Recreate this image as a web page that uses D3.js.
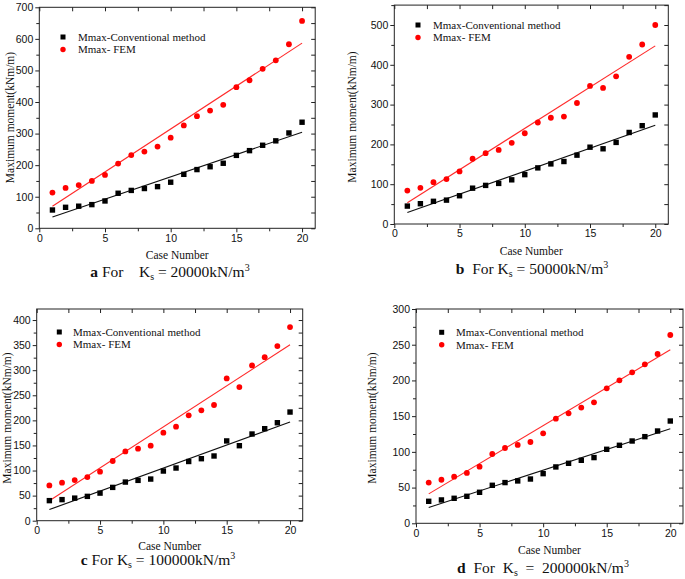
<!DOCTYPE html>
<html><head><meta charset="utf-8">
<script src="https://cdn.jsdelivr.net/npm/d3@7/dist/d3.min.js"></script>
<style>body{margin:0;background:#fff}svg{display:block}</style>
</head><body>
<svg id="c" width="685" height="579"></svg>
<script>
const cases = [1,2,3,4,5,6,7,8,9,10,11,12,13,14,15,16,17,18,19,20];
const xTicks = [0,5,10,15,20];
const seriesNames = ["Mmax-Conventional method", "Mmax- FEM"];
const xTitle = "Case Number";
const yTitle = "Maximum moment(kNm/m)";

const convA = [58,66.5,70,75,86.6,111,120,126,132,146,171,186,195,206,231,246,263,277,302,336];
const femA  = [113,128,137,150,169,205,232,243,259,287,326,355,373,391,447,469,505,532,583,657];
const convB = [45,51,57,60,71,90,97,102,111,124,141,151,157,173,193,189,205,230,247,274];
const femB  = [84,91,105,113,132,164,178,186,204,228,255,267,270,304,347,342,371,420,451,500];
const convC = [40,42,45,48.5,55,66.4,77,80.4,83,99,105,118,123.6,129,159,149.5,172.8,183.4,195.3,216.6];
const femC  = [70.4,75.7,81,87,97.7,119,138,143.5,149.5,175.4,187.4,210,220,230.6,283.7,266.4,309.6,326,348,386];
const convD = [30.8,32.7,35,37.8,43.4,53.2,57,59.3,62,69.5,78.9,84,88.2,92,103.6,109.2,115.2,121.3,129.2,143.2];
const femD  = [57,61,65.3,70.5,79.3,97,105.4,109.7,113.8,126,146.5,154,162,169.4,189,200.2,211.4,222.6,237,263.6];

const yTicksA = [0,100,200,300,400,500,600,700];
const yTicksB = [0,100,200,300,400,500];
const yTicksC = [0,50,100,150,200,250,300,350,400];
const yTicksD = [0,50,100,150,200,250,300];
const yMax = [700,550,422,300];
const captions = [
  {letter:"a", pre:" For    K", val:" = 20000kN/m"},
  {letter:"b", pre:"  For K", val:" = 50000kN/m"},
  {letter:"c", pre:" For K", val:" = 100000kN/m"},
  {letter:"d", pre:"  For  K", val:"  =  200000kN/m"}
];

const panels = [
  {conv:convA, fem:femA, yt:yTicksA, ymax:yMax[0], minorStep:50, cap:captions[0],
   x0:39.3, x1:315.2, y0:228.3, y1:7.3, ylx:10, yly:117.5, xly:259, capx:170, capy:277,
   legx:63, legy:37, legtx:78},
  {conv:convB, fem:femB, yt:yTicksB, ymax:yMax[1], minorStep:50, cap:captions[1],
   x0:394.3, x1:668.3, y0:224, y1:5.1, ylx:352, yly:117, xly:255, capx:532, capy:274,
   legx:418, legy:25, legtx:433},
  {conv:convC, fem:femC, yt:yTicksC, ymax:yMax[2], minorStep:25, cap:captions[2],
   x0:36.7, x1:302.7, y0:520.7, y1:309, ylx:7, yly:418, xly:550, capx:158, capy:565,
   legx:59.3, legy:332, legtx:73},
  {conv:convD, fem:femD, yt:yTicksD, ymax:yMax[3], minorStep:25, cap:captions[3],
   x0:416, x1:683, y0:523.3, y1:309, ylx:372, yly:418, xly:554, capx:543, capy:572.5,
   legx:441.7, legy:332.3, legtx:456}
];

const svg = d3.select("#c");
const sans = "'Liberation Sans', Arial, sans-serif";
const serif = "'Liberation Serif', 'Times New Roman', serif";

function fit(xs, ys){
  const n = xs.length, mx = d3.mean(xs), my = d3.mean(ys);
  let sxy=0, sxx=0;
  for(let i=0;i<n;i++){ sxy += (xs[i]-mx)*(ys[i]-my); sxx += (xs[i]-mx)**2; }
  const b = sxy/sxx, a = my - b*mx;
  return x => a + b*x;
}

panels.forEach(p => {
  const x = d3.scaleLinear().domain([0,21]).range([p.x0,p.x1]);
  const y = d3.scaleLinear().domain([0,p.ymax]).range([p.y0,p.y1]);
  const g = svg.append("g");
  const xMinor = d3.range(0, 21.01, 2.5).filter(v => !xTicks.includes(v));
  const yMinor = d3.range(0, p.ymax+0.01, p.minorStep).filter(v => !p.yt.includes(v));

  // bottom axis (outward)
  const bx = g.append("g").attr("transform",`translate(0,${p.y0})`)
    .call(d3.axisBottom(x).tickValues(xTicks).tickSize(4).tickPadding(2).tickFormat(d3.format("d")));
  bx.select(".domain").remove();
  bx.selectAll("text").attr("font-family",sans).attr("font-size",10.5).attr("fill","#111");
  bx.selectAll("line").attr("stroke","#222");
  g.append("g").attr("transform",`translate(0,${p.y0})`)
    .call(d3.axisBottom(x).tickValues(xMinor).tickSize(3).tickFormat(""))
    .call(s=>{s.select(".domain").remove(); s.selectAll("line").attr("stroke","#222");});
  // left axis (outward)
  const ly = g.append("g").attr("transform",`translate(${p.x0},0)`)
    .call(d3.axisLeft(y).tickValues(p.yt).tickSize(4).tickPadding(2).tickFormat(d3.format("d")));
  ly.select(".domain").remove();
  ly.selectAll("text").attr("font-family",sans).attr("font-size",10.5).attr("fill","#111");
  ly.selectAll("line").attr("stroke","#222");
  g.append("g").attr("transform",`translate(${p.x0},0)`)
    .call(d3.axisLeft(y).tickValues(yMinor).tickSize(3).tickFormat(""))
    .call(s=>{s.select(".domain").remove(); s.selectAll("line").attr("stroke","#222");});
  // top axis (inward)
  g.append("g").attr("transform",`translate(0,${p.y1})`)
    .call(d3.axisTop(x).tickValues(xTicks.concat(xMinor)).tickSize(-4).tickFormat(""))
    .call(s=>{s.select(".domain").remove(); s.selectAll("line").attr("stroke","#222");});
  // right axis (inward)
  g.append("g").attr("transform",`translate(${p.x1},0)`)
    .call(d3.axisRight(y).tickValues(p.yt.concat(yMinor)).tickSize(-4).tickFormat(""))
    .call(s=>{s.select(".domain").remove(); s.selectAll("line").attr("stroke","#222");});
  // frame
  g.append("rect").attr("x",p.x0).attr("y",p.y1).attr("width",p.x1-p.x0).attr("height",p.y0-p.y1)
    .attr("fill","none").attr("stroke","#222").attr("stroke-width",1);

  // regression lines
  const fc = fit(cases,p.conv), ff = fit(cases,p.fem);
  g.append("line").attr("x1",x(1)).attr("y1",y(fc(1))).attr("x2",x(20)).attr("y2",y(fc(20)))
    .attr("stroke","#111").attr("stroke-width",1.1);
  g.append("line").attr("x1",x(1)).attr("y1",y(ff(1))).attr("x2",x(20)).attr("y2",y(ff(20)))
    .attr("stroke","#ff2a2a").attr("stroke-width",1.1);

  // points
  g.selectAll(".sq").data(p.conv).enter().append("rect")
    .attr("x",(d,i)=>x(cases[i])-2.7).attr("y",d=>y(d)-2.7).attr("width",5.4).attr("height",5.4).attr("fill","#000");
  g.selectAll(".ci").data(p.fem).enter().append("circle")
    .attr("cx",(d,i)=>x(cases[i])).attr("cy",d=>y(d)).attr("r",2.9).attr("fill","#ff0000");

  // legend
  g.append("rect").attr("x",p.legx-2.5).attr("y",p.legy-2.5).attr("width",5).attr("height",5).attr("fill","#000");
  g.append("circle").attr("cx",p.legx).attr("cy",p.legy+12.5).attr("r",2.7).attr("fill","#ff0000");
  g.append("text").attr("x",p.legtx).attr("y",p.legy+3.8).text(seriesNames[0])
    .attr("font-family",serif).attr("font-size",11).attr("fill","#111");
  g.append("text").attr("x",p.legtx).attr("y",p.legy+16.3).text(seriesNames[1])
    .attr("font-family",serif).attr("font-size",11).attr("fill","#111");

  // axis titles
  g.append("text").attr("x",(p.x0+p.x1)/2).attr("y",p.xly).attr("text-anchor","middle")
    .attr("font-family",serif).attr("font-size",11.5).attr("fill","#111").text(xTitle);
  g.append("text").attr("transform",`translate(${p.ylx},${p.yly}) rotate(-90)`).attr("text-anchor","middle")
    .attr("dominant-baseline","central")
    .attr("font-family",serif).attr("font-size",11.5).attr("fill","#111").text(yTitle);

  // caption
  const t = g.append("text").attr("x",p.capx).attr("y",p.capy).attr("text-anchor","middle")
    .attr("font-family",serif).attr("font-size",15.5).attr("fill","#111").style("white-space","pre");
  t.append("tspan").attr("font-weight","bold").text(p.cap.letter);
  t.append("tspan").text(p.cap.pre);
  t.append("tspan").attr("font-size",10).attr("dy",3).text("s");
  t.append("tspan").attr("dy",-3).text(p.cap.val);
  t.append("tspan").attr("font-size",10).attr("dy",-6).text("3");
});
</script>
</body></html>
